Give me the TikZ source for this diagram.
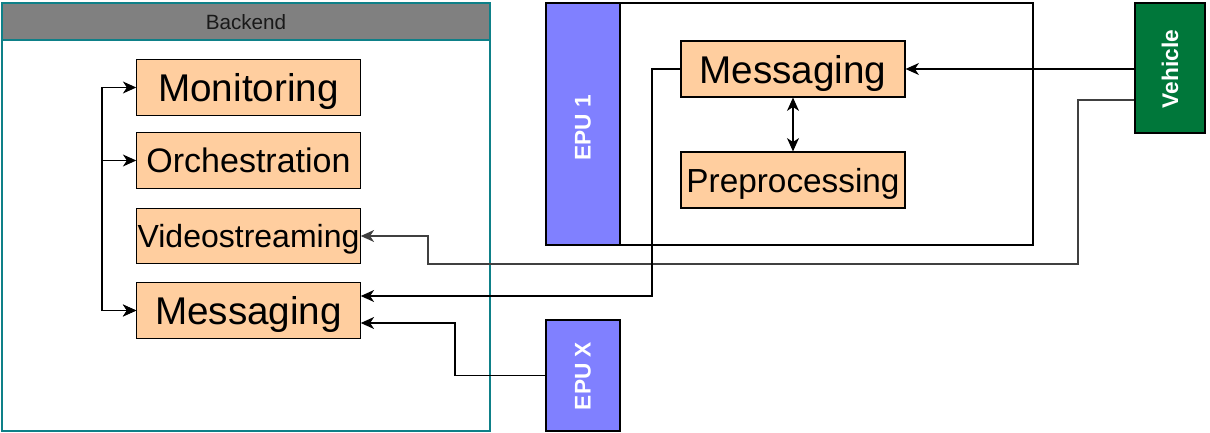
\documentclass[tikz,border=0pt]{standalone}
\usepackage{fontspec}
\setmainfont{Liberation Sans}
\usetikzlibrary{arrows.meta,calc}
\definecolor{boxfill}{HTML}{FFCE9F}
\definecolor{epu}{HTML}{8080FF}
\definecolor{veh}{HTML}{00773A}
\definecolor{teal}{HTML}{0E8088}
\definecolor{hdr}{HTML}{808080}
\tikzset{
  comp/.style={draw=black, fill=boxfill, line width=0.9pt, inner sep=0pt,
    minimum width=167.5pt, minimum height=41.5pt, text=black,
    text depth=0pt},
  vbox/.style={draw=black, line width=0.9pt, inner sep=0pt},
  vtext/.style={rotate=90, text=white, font=\bfseries\fontsize{17}{19}\selectfont},
  conn/.style={line width=0.9pt, draw=black, -{Stealth[length=10pt,width=9pt,inset=3pt]}},
  conn2/.style={line width=0.9pt, draw=black, {Stealth[length=10pt,width=9pt,inset=3pt]}-{Stealth[length=10pt,width=9pt,inset=3pt]}},
}
\begin{document}
\begin{tikzpicture}[x=0.75pt,y=-0.75pt]
\useasboundingbox (0,0) rectangle (1210,432);
% Backend container
\fill[hdr] (2,3) rectangle (490,40);
\draw[teal, line width=1pt] (2,3) rectangle (490,431);
\draw[teal, line width=1pt] (2,40) -- (490,40);
\node[font=\fontsize{15.5}{17}\selectfont, text=black!90] (bt) at (246,22) {Backend};
% Backend components
\node[comp, font=\fontsize{29}{32}\selectfont] (mon) at (248.5,87.5) {Monitoring};
\node[comp, font=\fontsize{25.5}{30}\selectfont] (orch) at (248.5,160.5) {Orchestration};
\node[comp, font=\fontsize{24}{28}\selectfont] (video) at (248.5,236) {Videostreaming};
\node[comp, font=\fontsize{29}{32}\selectfont] (bmsg) at (248.5,310.5) {Messaging};
% EPU 1 container
\node[draw=black, line width=0.9pt, minimum width=365.25pt, minimum height=181.5pt, inner sep=0pt] (epucont) at (789.5,124) {};
\node[vbox, fill=epu, minimum width=55.5pt, minimum height=181.5pt] (epu1) at (583,124) {};
\node[vtext] (epu1t) at (583,128) {EPU 1};
\node[comp, minimum width=168pt, minimum height=42pt, font=\fontsize{29}{32}\selectfont] (emsg) at (793,69) {Messaging};
\node[comp, minimum width=168pt, minimum height=42pt, font=\fontsize{25}{29}\selectfont] (pre) at (793,180) {Preprocessing};
% Vehicle
\node[vbox, fill=veh, minimum width=52.5pt, minimum height=97.5pt] (veh) at (1170,68) {};
\node[vtext] (veht) at (1170,69) {Vehicle};
% EPU X
\node[vbox, fill=epu, minimum width=55.5pt, minimum height=83.25pt] (epux) at (583,375.5) {};
\node[vtext] (epuxt) at (583,376) {EPU X};
% helper coordinates
\coordinate (l) at (102,0);
\coordinate (v1) at (1078,264);
\coordinate (v2) at (428,236);
\coordinate (m1) at (652,296);
\coordinate (x1) at (455,323);
% connectors
\draw[conn2] (mon.west) -- (mon.west -| l) -- (bmsg.west -| l) -- (bmsg.west);
\draw[conn2] (orch.west) -- (orch.west -| l) -- (bmsg.west -| l) -- (bmsg.west);
\draw[conn2] (emsg.south) -- (pre.north);
\draw[conn] (emsg.east -| veh.west) -- (emsg.east);
\draw[conn, draw=black!75] ([yshift=-24pt]veh.west) -| (v1) -| (v2) -- (v2 -| video.east);
\draw[conn] (emsg.west) -| (m1) -- (m1 -| bmsg.east);
\draw[conn] (epux.west) -| (x1) -- (x1 -| bmsg.east);
\end{tikzpicture}
\end{document}
